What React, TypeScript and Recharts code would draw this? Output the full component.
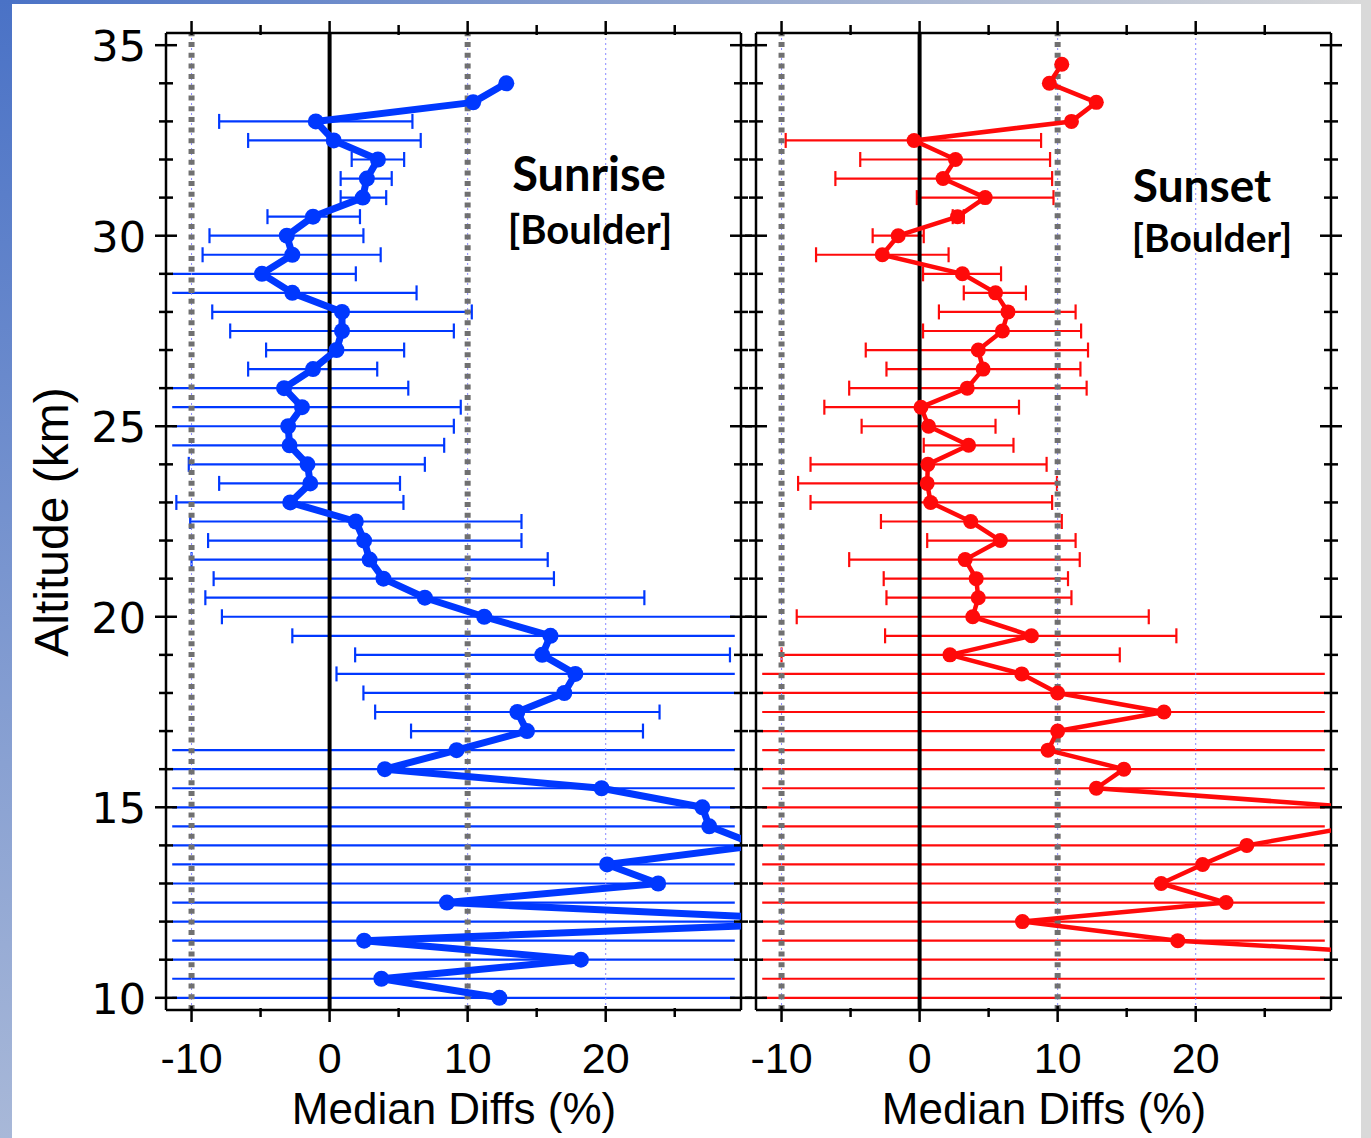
import React from 'react';
import { ScatterChart, Scatter, XAxis, YAxis, ErrorBar, ReferenceLine } from 'recharts';

// altitude levels (km)
const sunriseAlt = [34, 33.5, 33, 32.5, 32, 31.5, 31, 30.5, 30, 29.5, 29, 28.5, 28, 27.5, 27, 26.5, 26, 25.5, 25, 24.5, 24, 23.5, 23, 22.5, 22, 21.5, 21, 20.5, 20, 19.5, 19, 18.5, 18, 17.5, 17, 16.5, 16, 15.5, 15, 14.5, 14, 13.5, 13, 12.5, 12, 11.5, 11, 10.5, 10];
const sunriseMedian = [12.8, 10.4, -1.0, 0.3, 3.5, 2.7, 2.4, -1.2, -3.1, -2.7, -4.9, -2.7, 0.9, 0.9, 0.5, -1.2, -3.3, -2.0, -3.0, -2.9, -1.6, -1.4, -2.85, 1.9, 2.5, 2.9, 3.9, 6.9, 11.2, 16.0, 15.4, 17.8, 17.0, 13.6, 14.3, 9.2, 4.0, 19.7, 27.0, 27.5, 31.0, 20.1, 23.8, 8.5, 38.0, 2.5, 18.2, 3.75, 12.3];
const sunriseLow = [null, null, -8.0, -5.9, 1.6, 0.8, 0.8, -4.5, -8.7, -9.2, -15, -15, -8.5, -7.2, -4.6, -5.9, -15, -15, -15, -15, -10.2, -8.0, -11.1, -10.1, -8.8, -10.0, -8.4, -9.0, -7.8, -2.7, 1.85, 0.5, 2.45, 3.3, 5.9, -15, -15, -15, -15, -15, -15, -15, -15, -15, -15, -15, -15, -15, -15];
const sunriseHigh = [null, null, 6.0, 6.6, 5.4, 4.5, 4.1, 2.2, 2.45, 3.7, 1.9, 6.3, 10.3, 9.0, 5.4, 3.45, 5.7, 9.5, 9.0, 8.3, 6.9, 5.1, 5.35, 13.9, 13.9, 15.8, 16.25, 22.8, 45, 45, 29.0, 45, 45, 23.9, 22.7, 45, 45, 45, 45, 45, 45, 45, 45, 45, 45, 45, 45, 45, 45];

const sunsetAlt = [34.5, 34, 33.5, 33, 32.5, 32, 31.5, 31, 30.5, 30, 29.5, 29, 28.5, 28, 27.5, 27, 26.5, 26, 25.5, 25, 24.5, 24, 23.5, 23, 22.5, 22, 21.5, 21, 20.5, 20, 19.5, 19, 18.5, 18, 17.5, 17, 16.5, 16, 15.5, 15, 14.5, 14, 13.5, 13, 12.5, 12, 11.5, 11, 10.5, 10];
const sunsetMedian = [10.3, 9.4, 12.8, 11.0, -0.4, 2.6, 1.7, 4.75, 2.75, -1.55, -2.7, 3.1, 5.5, 6.4, 6.0, 4.25, 4.6, 3.45, 0.1, 0.65, 3.55, 0.6, 0.55, 0.8, 3.7, 5.85, 3.3, 4.1, 4.25, 3.85, 8.1, 2.2, 7.4, 10.0, 17.7, 10.0, 9.3, 14.8, 12.8, 31.6, 31.5, 23.7, 20.5, 17.5, 22.2, 7.45, 18.7, 42, 40, 41];
const sunsetLow = [null, null, null, null, -9.7, -4.3, -6.1, -0.2, 2.4, -3.4, -7.5, 0.25, 3.2, 1.4, 0.25, -3.9, -2.4, -5.1, -6.9, -4.2, 0.3, -7.9, -8.8, -7.9, -2.8, 0.55, -5.1, -2.6, -2.4, -8.9, -2.5, -10.0, -15, -15, -15, -15, -15, -15, -15, -15, -15, -15, -15, -15, -15, -15, -15, -15, -15, -15];
const sunsetHigh = [null, null, null, null, 8.8, 9.45, 9.6, 9.7, 3.2, 0.3, 2.1, 5.9, 7.7, 11.3, 11.7, 12.2, 11.65, 12.1, 7.2, 5.5, 6.8, 9.2, 9.95, 9.6, 10.3, 11.3, 11.6, 10.75, 11.0, 16.6, 18.6, 14.5, 45, 45, 45, 45, 45, 45, 45, 45, 45, 45, 45, 45, 45, 45, 45, 45, 45, 45];

const xTicks = [-10, -5, 0, 5, 10, 15, 20, 25];
const yTicks = [10, 11, 12, 13, 14, 15, 16, 17, 18, 19, 20, 21, 22, 23, 24, 25, 26, 27, 28, 29, 30, 31, 32, 33, 34, 35];
const greyLines = [-10, 10];
const gridLines = [-10, 10, 20];

const X_DOMAIN = [-11.85, 29.8];
const Y_DOMAIN = [9.68, 35.32];
// bars that run off the plot stop a little inside the frame, as in the original
const BAR_MIN = -11.4;
const BAR_MAX = 29.35;
const BLUE = '#0038ff';
const RED = '#ff0a0a';
const AXIS = { stroke: '#000', strokeWidth: 2.5 };
const NUM_FONT = '"Liberation Sans", Arial, sans-serif';

function buildRows(alt: number[], med: number[], lo: (number | null)[], hi: (number | null)[]) {
  const rows = alt.map((a, i) => ({ alt: a, med: med[i] }));
  const bars: any[] = [];
  const caps: any[] = [];
  alt.forEach((a, i) => {
    const l = lo[i];
    const h = hi[i];
    if (l == null || h == null) return;
    const cl = Math.max(l, BAR_MIN);
    const ch = Math.min(h, BAR_MAX);
    bars.push({ alt: a, med: med[i], err: [med[i] - cl, ch - med[i]] });
    if (l > X_DOMAIN[0]) caps.push({ alt: a, med: l });
    if (h < X_DOMAIN[1]) caps.push({ alt: a, med: h });
  });
  return { rows, bars, caps };
}

const BottomTick = (p: any) => {
  const v = p.payload.value;
  const major = v % 10 === 0;
  return (
    <g>
      <line x1={p.x} x2={p.x} y1={p.y - (major ? 4 : 2)} y2={p.y + (major ? 12 : 7)} stroke="#000" strokeWidth={2.5} />
      {major && (
        <text x={p.x} y={p.y + 63} textAnchor="middle" fontSize={43} fontFamily={NUM_FONT} fill="#000">{String(v)}</text>
      )}
    </g>
  );
};

const TopTick = (p: any) => {
  const major = p.payload.value % 10 === 0;
  return <line x1={p.x} x2={p.x} y1={p.y - (major ? 12 : 8)} y2={p.y + 2} stroke="#000" strokeWidth={2.5} />;
};

const SideTick = (p: any, labels: boolean) => {
  const v = p.payload.value;
  const major = v % 5 === 0;
  const h = major ? 11 : 7;
  return (
    <g>
      <line x1={p.x - h} x2={p.x + h} y1={p.y} y2={p.y} stroke="#000" strokeWidth={2.5} />
      {labels && major && (
        <text x={p.x - 20} y={p.y + 16} textAnchor="end" fontSize={43} fontFamily='"DejaVu Sans", sans-serif' fill="#000">{String(v)}</text>
      )}
    </g>
  );
};

function Panel({ data, color, lineWidth, dotR, errWidth, left, marginLeft, width, labels }: any) {
  return (
    <div style={{ position: 'absolute', left, top: 0 }}>
      <ScatterChart width={width} height={1138} margin={{ top: 32, right: 29, bottom: 127, left: marginLeft - 1 }}>
        <XAxis xAxisId="b" type="number" dataKey="med" domain={X_DOMAIN} allowDataOverflow ticks={xTicks} interval={0}
          height={1} tickSize={0} tickMargin={0} tickLine={false} axisLine={AXIS} tick={(p: any) => <BottomTick {...p} />} />
        <XAxis xAxisId="t" orientation="top" type="number" dataKey="med" domain={X_DOMAIN} allowDataOverflow ticks={xTicks} interval={0}
          height={1} tickSize={0} tickMargin={0} tickLine={false} axisLine={AXIS} tick={(p: any) => <TopTick {...p} />} />
        <YAxis yAxisId="l" type="number" dataKey="alt" domain={Y_DOMAIN} allowDataOverflow ticks={yTicks} interval={0}
          width={1} tickSize={0} tickMargin={0} tickLine={false} axisLine={AXIS} tick={(p: any) => SideTick(p, labels)} />
        <YAxis yAxisId="r" orientation="right" type="number" dataKey="alt" domain={Y_DOMAIN} allowDataOverflow ticks={yTicks} interval={0}
          width={1} tickSize={0} tickMargin={0} tickLine={false} axisLine={AXIS} tick={(p: any) => SideTick(p, false)} />

        <Scatter xAxisId="t" yAxisId="r" data={data.bars} isAnimationActive={false} shape={() => <g />} zIndex={300}>
          <ErrorBar dataKey="err" direction="x" width={0} stroke={color} strokeWidth={errWidth} isAnimationActive={false} zIndex={300} />
        </Scatter>
        <Scatter xAxisId="t" yAxisId="r" data={data.caps} isAnimationActive={false} zIndex={300}
          shape={(p: any) => <line x1={p.cx} x2={p.cx} y1={p.cy - 7.5} y2={p.cy + 7.5} stroke={color} strokeWidth={errWidth} />} />

        {gridLines.map((v) => (
          <ReferenceLine key={'g' + v} xAxisId="b" yAxisId="l" x={v} stroke="#8a8aff" strokeWidth={1} strokeDasharray="2 3" zIndex={350} />
        ))}
        {greyLines.map((v) => (
          <ReferenceLine key={'d' + v} xAxisId="b" yAxisId="l" x={v} stroke="#707070" strokeWidth={6} strokeDasharray="5 5.7" zIndex={350} />
        ))}
        <ReferenceLine xAxisId="b" yAxisId="l" x={0} stroke="#000" strokeWidth={4} zIndex={350} />

        <Scatter xAxisId="b" yAxisId="l" data={data.rows} isAnimationActive={false} zIndex={600}
          line={{ stroke: color, strokeWidth: lineWidth, strokeLinejoin: 'round' }} lineJointType="linear"
          shape={(p: any) => <circle cx={p.cx} cy={p.cy} r={dotR} fill={color} />} />
      </ScatterChart>
    </div>
  );
}

export default function App() {
  const sunrise = buildRows(sunriseAlt, sunriseMedian, sunriseLow, sunriseHigh);
  const sunset = buildRows(sunsetAlt, sunsetMedian, sunsetLow, sunsetHigh);
  const title = { fontFamily: 'Lato, "Open Sans", sans-serif', fontWeight: 700, fill: '#000' };
  const axisTitle = { fontFamily: NUM_FONT, fontSize: 44, fill: '#000' };
  return (
    <div style={{ position: 'absolute', left: 0, top: 0, width: 1371, height: 1138, background: '#fff', overflow: 'hidden' }}>
      <div style={{ position: 'absolute', left: 0, top: 0, width: 1371, height: 4, background: 'linear-gradient(to right, #4a72c6, #d9d9d9)' }} />
      <div style={{ position: 'absolute', left: 0, top: 0, width: 12, height: 1138, background: 'linear-gradient(to bottom, #4a72c6, #a8b8d8)' }} />
      <div style={{ position: 'absolute', left: 1361, top: 0, width: 10, height: 1138, background: '#d9d9d9' }} />

      <Panel data={sunrise} color={BLUE} lineWidth={7} dotR={8} errWidth={2.2} left={0} marginLeft={166} width={771} labels />
      <Panel data={sunset} color={RED} lineWidth={4.5} dotR={7.5} errWidth={2.2} left={696} marginLeft={60} width={665} labels={false} />

      <svg width={1371} height={1138} style={{ position: 'absolute', left: 0, top: 0, pointerEvents: 'none' }}>
        <text x={589} y={191} textAnchor="middle" fontSize={47} {...title}>Sunrise</text>
        <text x={590} y={244} textAnchor="middle" fontSize={40} {...title}>[Boulder]</text>
        <text x={1202} y={202} textAnchor="middle" fontSize={46} {...title}>Sunset</text>
        <text x={1212} y={252} textAnchor="middle" fontSize={39} {...title}>[Boulder]</text>
        <text x={454} y={1124} textAnchor="middle" {...axisTitle}>Median Diffs (%)</text>
        <text x={1044} y={1124} textAnchor="middle" {...axisTitle}>Median Diffs (%)</text>
        <text transform="translate(68,522) rotate(-90)" textAnchor="middle" {...axisTitle} fontSize={48}>Altitude (km)</text>
      </svg>
    </div>
  );
}
